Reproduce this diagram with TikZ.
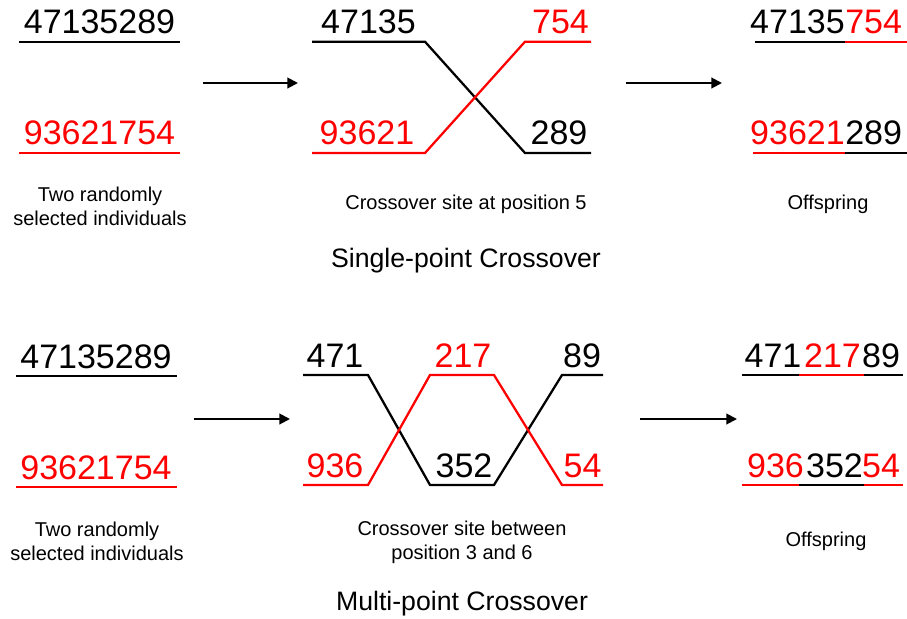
\documentclass[tikz,border=0pt]{standalone}
\usepackage{fontspec}
\setmainfont{Liberation Sans}
\usetikzlibrary{arrows.meta}

\begin{document}
\begin{tikzpicture}[x=0.75pt,y=-0.75pt,>={Triangle[length=8pt,width=8pt]},
    gene/.style={inner sep=0pt,anchor=base,font=\fontsize{25.5}{30}\selectfont},
    note/.style={align=center,font=\fontsize{15}{18}\selectfont},
    caption/.style={font=\fontsize{20}{24}\selectfont},
    strand/.style={line width=1.7pt},
    step arrow/.style={->,line width=1.5pt}]
  \useasboundingbox (0,0) rectangle (907,618);

  % ---- single-point crossover ----
  % parents
  \draw[strand] (19,41.7) -- (180,41.7);
  \node[gene] (sa) at (99.5,33.5) {47135289};
  \draw[strand,red] (19,153) -- (180,153);
  \node[gene,red] (sb) at (99.5,144.5) {93621754};
  \node[note] (snote1) at (100,206) {Two randomly\\selected individuals};

  \coordinate (sarr1) at (203,83);
  \coordinate (sarr1e) at (298,83);
  \draw[step arrow] (sarr1) -- (sarr1e);

  % cut after the fifth gene
  \draw[strand] (312,41.7) -- (425,41.7) -- (525,153) -- (591,153);
  \draw[strand,red] (312,153) -- (425,153) -- (525,41.7) -- (591,41.7);
  \node[gene] (sa1) at (368.5,33.5) {47135};
  \node[gene,red] (sb2) at (560.5,33.5) {754};
  \node[gene,red] (sb1) at (367,144.5) {93621};
  \node[gene] (sa2) at (559,144.5) {289};
  \node[note] (snote2) at (466,204) {Crossover site at position 5};

  \coordinate (sarr2) at (626,83);
  \coordinate (sarr2e) at (722,83);
  \draw[step arrow] (sarr2) -- (sarr2e);

  % children
  \draw[strand] (755,41.7) -- (845,41.7);
  \draw[strand,red] (845,41.7) -- (907,41.7);
  \node[gene,anchor=base east] (sc1) at (845,33.5) {47135};
  \node[gene,anchor=base west,red] (sc2) at (845,33.5) {754};
  \draw[strand,red] (753,153) -- (845,153);
  \draw[strand] (845,153) -- (907,153);
  \node[gene,anchor=base east,red] (sd1) at (845,144.5) {93621};
  \node[gene,anchor=base west] (sd2) at (845,144.5) {289};
  \node[note] (snote3) at (828,204) {Offspring};

  \node[caption] (stitle) at (466,261) {Single-point Crossover};

  % ---- multi-point crossover ----
  % parents
  \draw[strand] (16,376) -- (177,376);
  \node[gene] (ma) at (96,368) {47135289};
  \draw[strand,red] (16,487) -- (177,487);
  \node[gene,red] (mb) at (96,479) {93621754};
  \node[note] (mnote1) at (97,541) {Two randomly\\selected individuals};

  \coordinate (marr1) at (194,419);
  \coordinate (marr1e) at (290,419);
  \draw[step arrow] (marr1) -- (marr1e);

  % cuts after the third and sixth gene
  \draw[strand] (303,375) -- (368,375) -- (430,485) -- (494,485) -- (562,375) -- (603,375);
  \draw[strand,red] (303,485) -- (368,485) -- (430,375) -- (494,375) -- (562,485) -- (603,485);
  \node[gene] (ma1) at (335,367.5) {471};
  \node[gene,red] (mb2) at (463,367.5) {217};
  \node[gene] (ma3) at (582,367.5) {89};
  \node[gene,red] (mb1) at (335,477.5) {936};
  \node[gene] (ma2) at (464,477.5) {352};
  \node[gene,red] (mb3) at (582.5,477.5) {54};
  \node[note] (mnote2) at (462,542) {Crossover site between\\position 3 and 6};

  \coordinate (marr2) at (640,419);
  \coordinate (marr2e) at (737,419);
  \draw[step arrow] (marr2) -- (marr2e);

  % children
  \draw[strand] (742,375) -- (799,375);
  \draw[strand,red] (799,375) -- (864,375);
  \draw[strand] (864,375) -- (903,375);
  \node[gene] (mc1) at (773,367.5) {471};
  \node[gene,red] (mc2) at (832.5,367.5) {217};
  \node[gene] (mc3) at (881,367.5) {89};
  \draw[strand,red] (742,485) -- (799,485);
  \draw[strand] (799,485) -- (864,485);
  \draw[strand,red] (864,485) -- (903,485);
  \node[gene,red] (md1) at (775.5,477.5) {936};
  \node[gene] (md2) at (834.5,477.5) {352};
  \node[gene,red] (md3) at (881,477.5) {54};
  \node[note] (mnote3) at (826,541) {Offspring};

  \node[caption] (mtitle) at (462,604) {Multi-point Crossover};
\end{tikzpicture}
\end{document}
